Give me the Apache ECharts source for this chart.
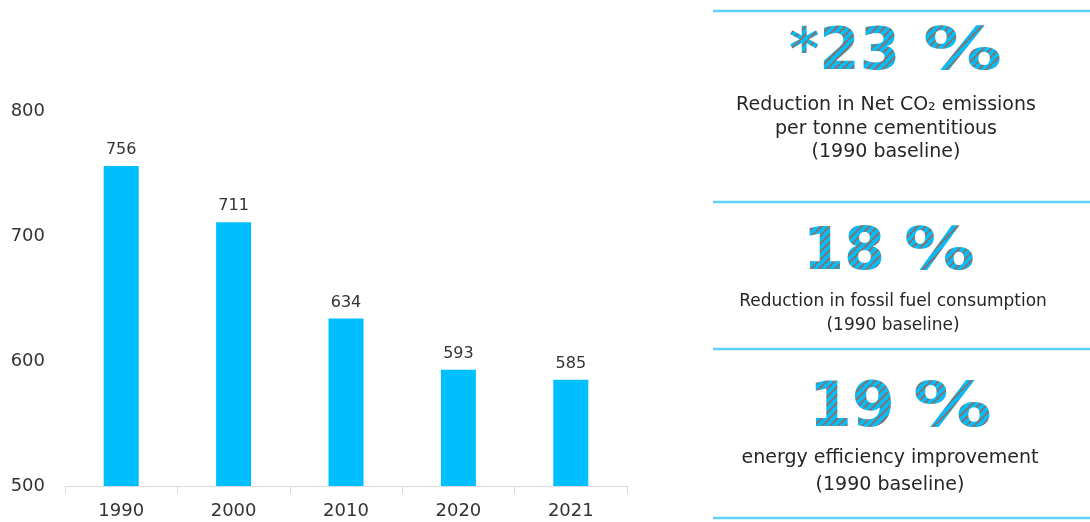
<!DOCTYPE html>
<html>
<head>
<meta charset="utf-8">
<script src="https://cdn.jsdelivr.net/npm/echarts@6/dist/echarts.min.js"></script>
<style>
  html, body { margin: 0; padding: 0; background: #ffffff; }
  #chart { width: 1090px; height: 522px; }
</style>
</head>
<body>
<div id="chart"></div>
<script>
// Net CO2 per tonne of cementitious product, by year
const years = ['1990', '2000', '2010', '2020', '2021'];
const netCO2PerTonne = [756, 711, 634, 593, 585];
const yAxisMin = 500;
const yAxisMax = 800;
const yAxisStep = 100;

// Headline figures shown beside the chart
const headlineFigures = ['*23', '18', '19'];
const headlineUnit = '%';
const headlineNotes = [
  ['Reduction in Net CO₂ emissions', 'per tonne cementitious', '(1990 baseline)'],
  ['Reduction in fossil fuel consumption', '(1990 baseline)'],
  ['energy efficiency improvement', '(1990 baseline)']
];

// Placement of each headline panel
const panelLayout = [
  { figRight: 900, unitLeft: 923, cy: 54,    size: 58, unitScale: 1.36, noteX: 886, noteSize: 19, noteY: [105, 129.5, 152], band: [20, 88] },
  { figRight: 885, unitLeft: 904, cy: 253.5, size: 59, unitScale: 1.2,  noteX: 893, noteSize: 17, noteY: [302, 326],        band: [220, 290] },
  { figRight: 895, unitLeft: 913, cy: 409.5, size: 62, unitScale: 1.27, noteX: 890, noteSize: 19, noteY: [458, 485],        band: [376, 444] }
];
const ruleYs = [11, 202, 349, 518];

const BLUE = '#00BFFF';
const TEXT = '#333333';
const FONT = '"DejaVu Sans", Verdana, sans-serif';

// Diagonal grey hatching, painted only onto the headline glyphs
function makeHatch() {
  const s = 8;
  const c = document.createElement('canvas');
  c.width = s; c.height = s;
  const g = c.getContext('2d');
  g.strokeStyle = '#7a7a7a';
  g.lineWidth = 2.4;
  g.beginPath();
  for (let k = -1; k <= 1; k++) {
    g.moveTo(k * s, s);
    g.lineTo(k * s + s, 0);
  }
  g.stroke();
  return c;
}
const hatch = makeHatch();

const graphics = [];
ruleYs.forEach(y => {
  graphics.push({
    type: 'line', z: 5,
    shape: { x1: 713, y1: y, x2: 1090, y2: y },
    style: { stroke: '#5fd0ff', lineWidth: 2.5 }
  });
});

headlineFigures.forEach((fig, i) => {
  const p = panelLayout[i];
  graphics.push({
    type: 'text', z: 10,
    x: p.figRight, y: p.cy,
    style: {
      text: fig, x: 0, y: 0,
      fontFamily: FONT, fontWeight: 'bold', fontSize: p.size,
      fill: BLUE,
      align: 'right', textAlign: 'right',
      verticalAlign: 'middle', textVerticalAlign: 'middle'
    }
  });
  graphics.push({
    type: 'text', z: 10,
    x: p.unitLeft, y: p.cy, scaleX: p.unitScale,
    style: {
      text: headlineUnit, x: 0, y: 0,
      fontFamily: FONT, fontWeight: 'bold', fontSize: p.size,
      fill: BLUE,
      align: 'left', textAlign: 'left',
      verticalAlign: 'middle', textVerticalAlign: 'middle'
    }
  });
  // hatch overlay composited onto the glyphs already drawn
  graphics.push({
    type: 'rect', z: 20, silent: true,
    shape: { x: 750, y: p.band[0], width: 280, height: p.band[1] - p.band[0] },
    style: { fill: { image: hatch, repeat: 'repeat' }, blend: 'source-atop' }
  });
  headlineNotes[i].forEach((line, j) => {
    graphics.push({
      type: 'text', z: 10,
      x: p.noteX, y: p.noteY[j],
      style: {
        text: line, x: 0, y: 0,
        fontFamily: FONT, fontSize: p.noteSize,
        fill: '#262626',
        align: 'center', textAlign: 'center',
        verticalAlign: 'middle', textVerticalAlign: 'middle'
      }
    });
  });
});

const chart = echarts.init(document.getElementById('chart'), null, { renderer: 'canvas' });
chart.setOption({
  animation: false,
  backgroundColor: 'transparent',
  grid: { left: 65, right: 463, top: 111, bottom: 36, containLabel: false },
  xAxis: {
    type: 'category',
    data: years,
    axisLine: { lineStyle: { color: '#d9d9d9', width: 1 } },
    axisTick: { show: true, length: 8, lineStyle: { color: '#d9d9d9' } },
    axisLabel: { color: TEXT, fontFamily: FONT, fontSize: 18, margin: 16 },
    splitLine: { show: false }
  },
  yAxis: {
    type: 'value',
    min: yAxisMin, max: yAxisMax, interval: yAxisStep,
    axisLine: { show: false },
    axisTick: { show: false },
    splitLine: { show: false },
    axisLabel: { color: TEXT, fontFamily: FONT, fontSize: 18, margin: 20 }
  },
  series: [{
    type: 'bar',
    data: netCO2PerTonne,
    barWidth: 35,
    itemStyle: { color: BLUE },
    label: {
      show: true, position: 'top', distance: 8,
      color: TEXT, fontFamily: FONT, fontSize: 16
    }
  }],
  graphic: graphics
});
</script>
</body>
</html>
